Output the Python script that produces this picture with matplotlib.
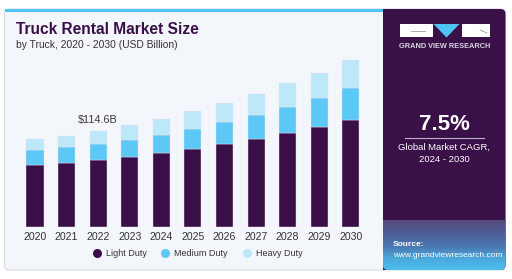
import numpy as np
import matplotlib
matplotlib.use("Agg")
import matplotlib.pyplot as plt
from matplotlib.patches import FancyBboxPatch, Rectangle, Polygon
from matplotlib.lines import Line2D
from matplotlib.colors import LinearSegmentedColormap

years = ["2020", "2021", "2022", "2023", "2024", "2025", "2026", "2027", "2028", "2029", "2030"]
light_duty = [74.5, 76.9, 80.1, 84.1, 88.2, 93.7, 99.3, 105.7, 112.2, 120.1, 128.2]
medium_duty = [17.7, 18.5, 19.2, 20.1, 22.3, 24.0, 26.4, 28.8, 32.0, 34.1, 38.1]
heavy_duty = [12.9, 13.6, 15.3, 17.7, 19.2, 20.9, 23.2, 24.9, 28.1, 30.8, 34.0]
series_names = ["Light Duty", "Medium Duty", "Heavy Duty"]
colors = ["#3a0f48", "#5cc8f5", "#bde8fa"]
callout_year = "2022"
callout_text = "$114.6B"

plt.rcParams['font.family'] = ['Liberation Sans', 'DejaVu Sans']

W, H = 512, 279
fig = plt.figure(figsize=(W / 100, H / 100), dpi=100)
fig.patch.set_facecolor("white")

# background / decoration layer in pixel coords
bg = fig.add_axes([0, 0, 1, 1], zorder=0)
bg.set_xlim(0, W)
bg.set_ylim(H, 0)
bg.axis("off")

card = FancyBboxPatch((4.5, 9), 501, 261, boxstyle="round,pad=0,rounding_size=5",
                      fc="#f3f7fb", ec="#d6dbe0", lw=0.8)
bg.add_patch(card)
bg.add_patch(Rectangle((4.5, 9), 379, 2.8, fc="#4fc3f2", ec="none"))

panel = FancyBboxPatch((383, 9), 122.5, 261, boxstyle="round,pad=0,rounding_size=5",
                       fc="#3a1048", ec="none")
bg.add_patch(panel)
bg.add_patch(Rectangle((383, 9), 10, 261, fc="#3a1048", ec="none"))

grad = LinearSegmentedColormap.from_list("g", ["#574a7e", "#4f5d94", "#4a74ad", "#4aa8dc", "#4cc0ef"])
im = bg.imshow(np.linspace(0, 1, 100).reshape(-1, 1), cmap=grad, aspect="auto",
               extent=[383, 506, 271, 220], zorder=2)
im.set_clip_path(panel)
bg.set_xlim(0, W)
bg.set_ylim(H, 0)

# logo
bg.add_patch(Rectangle((399.5, 24), 33, 13, fc="white", ec="none", zorder=3))
bg.add_patch(Rectangle((462, 24), 28, 13, fc="white", ec="none", zorder=3))
bg.add_patch(Polygon([[433.5, 24], [459.5, 24], [446.5, 37.5]], closed=True,
                     fc="#4fc3f2", ec="none", zorder=3))
bg.plot([411, 425], [31, 31], color="#888888", lw=0.5, zorder=4)
bg.plot([480, 487], [30, 33], color="#888888", lw=0.5, zorder=4)
bg.text(445, 46.5, "GRAND VIEW RESEARCH", color="#d9d4de", fontsize=5.3,
        fontweight="bold", ha="center", va="center", zorder=4)

bg.text(444, 125, "7.5%", color="white", fontsize=16, fontweight="bold",
        ha="center", va="center", zorder=4)
bg.plot([405, 484], [138, 138], color="#b9aec4", lw=0.8, zorder=4)
bg.text(444, 147, "Global Market CAGR,", color="white", fontsize=6.8,
        ha="center", va="center", zorder=4)
bg.text(444, 159.5, "2024 - 2030", color="white", fontsize=6.8,
        ha="center", va="center", zorder=4)
bg.text(393, 245, "Source:", color="white", fontsize=6, fontweight="bold",
        ha="left", va="center", zorder=4)
bg.text(393, 255.5, "www.grandviewresearch.com", color="white", fontsize=6,
        ha="left", va="center", zorder=4)

bg.text(16, 30, "Truck Rental Market Size", color="#3a0f48", fontsize=11.2,
        fontweight="bold", ha="left", va="center")
bg.text(16, 45, "by Truck, 2020 - 2030 (USD Billion)", color="#333333", fontsize=7.4,
        ha="left", va="center")

# bar chart
x = np.arange(len(years))
unit = 31.58
left_px = 35 - 0.6 * unit
ax_w = 11.2 * unit
base_px = 226.7
top_px = 50
ax = fig.add_axes([left_px / W, (H - base_px) / H, ax_w / W, (base_px - top_px) / H], zorder=1)
ax.patch.set_alpha(0)
ax.set_xlim(-0.6, 10.6)
ax.set_ylim(0, (base_px - top_px) * 1.2013)

bottom = np.zeros(len(years))
for vals, c, name in zip([light_duty, medium_duty, heavy_duty], colors, series_names):
    ax.bar(x, vals, 0.54, bottom=bottom, color=c, label=name, ec="#e6dff0", lw=0.3)
    bottom = bottom + np.array(vals)

i = years.index(callout_year)
ax.text(x[i], bottom[i] + 7, callout_text, ha="center", va="bottom",
        fontsize=7.8, color="#3a3a3a")

ax.set_xticks(x)
ax.set_xticklabels(years, fontsize=7.6, color="#333333")
ax.tick_params(axis="x", length=0, pad=4)
ax.set_yticks([])
for s in ax.spines.values():
    s.set_visible(False)

handles = [Line2D([0], [0], marker="o", ls="none", ms=5.5, mfc=c, mec=c) for c in colors]
fig.legend(handles, series_names, loc="center", bbox_to_anchor=(195 / W, 1 - 254 / H),
           ncol=3, frameon=False, fontsize=6.5, handletextpad=0.0, columnspacing=1.1,
           labelcolor="#333333")

fig.savefig("out.png", dpi=100, facecolor="white")
